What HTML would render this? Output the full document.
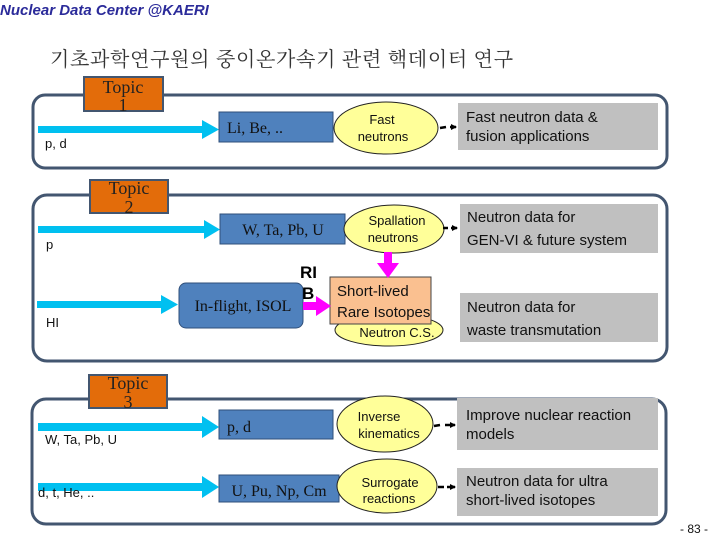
<!DOCTYPE html>
<html><head><meta charset="utf-8"><style>
html,body{margin:0;padding:0;background:#fff;}
svg{display:block;}
.s{font-family:"Liberation Serif","Noto Serif CJK SC",serif;}
.a{font-family:"Liberation Sans","Noto Sans CJK KR",sans-serif;}
</style></head><body>
<svg width="720" height="540" viewBox="0 0 720 540" xmlns="http://www.w3.org/2000/svg">
<defs>
<marker id="bk" markerWidth="6" markerHeight="6" refX="5" refY="3" orient="auto" markerUnits="userSpaceOnUse"><path d="M0,0 L6,3 L0,6Z" fill="#000"/></marker>
</defs>
<text x="0" y="15" class="a" font-size="15" font-weight="bold" font-style="italic" fill="#2b2b9a">Nuclear Data Center @KAERI</text>
<text x="50" y="66" font-family="'Noto Serif CJK SC','Noto Sans CJK KR',serif" font-size="20" letter-spacing="0.7" fill="#333">기초과학연구원의 중이온가속기 관련 핵데이터 연구</text>

<rect x="33" y="95" width="634" height="73" rx="12" fill="none" stroke="#435670" stroke-width="3"/>
<rect x="33" y="195" width="634" height="166" rx="14" fill="none" stroke="#435670" stroke-width="3"/>
<rect x="32" y="399" width="634" height="125" rx="14" fill="none" stroke="#435670" stroke-width="3"/>

<rect x="84" y="77" width="79" height="34" fill="#e36c0a" stroke="#435670" stroke-width="2"/>
<text x="123" y="93" class="s" font-size="18" text-anchor="middle" fill="#222">Topic</text>
<text x="123" y="111" class="s" font-size="18" text-anchor="middle" fill="#222">1</text>
<rect x="90" y="180" width="78" height="33" fill="#e36c0a" stroke="#435670" stroke-width="2"/>
<text x="129" y="194" class="s" font-size="18" text-anchor="middle" fill="#222">Topic</text>
<text x="129" y="213" class="s" font-size="18" text-anchor="middle" fill="#222">2</text>
<rect x="89" y="375" width="78" height="33" fill="#e36c0a" stroke="#435670" stroke-width="2"/>
<text x="128" y="389" class="s" font-size="18" text-anchor="middle" fill="#222">Topic</text>
<text x="128" y="408" class="s" font-size="18" text-anchor="middle" fill="#222">3</text>

<g fill="#00c0f0">
<rect x="38" y="126" width="166" height="7"/><path d="M202,120 L219,129.5 L202,139Z"/>
<rect x="38" y="226" width="168" height="7"/><path d="M204,220 L220,229.5 L204,239Z"/>
<rect x="37" y="301" width="126" height="7"/><path d="M161,295 L178,304.5 L161,314Z"/>
<rect x="38" y="423" width="166" height="8"/><path d="M202,416 L219,427 L202,438Z"/>
<rect x="38" y="483" width="166" height="8"/><path d="M202,476 L219,487 L202,498Z"/>
</g>
<g class="a" font-size="13" fill="#111">
<text x="45" y="148">p, d</text>
<text x="46" y="249">p</text>
<text x="46" y="327">HI</text>
<text x="45" y="444">W, Ta, Pb, U</text>
<text x="38" y="497">d, t, He, ..</text>
</g>

<g fill="#4f81bd" stroke="#2f4f7a" stroke-width="1">
<rect x="219" y="112" width="114" height="30"/>
<rect x="220" y="214" width="125" height="30"/>
<rect x="179" y="283" width="124" height="45" rx="7"/>
<rect x="219" y="410" width="114" height="29"/>
<rect x="219" y="475" width="120" height="27"/>
</g>
<g class="s" font-size="16" fill="#111">
<text x="227" y="133">Li, Be, ..</text>
<text x="283" y="235" text-anchor="middle">W, Ta, Pb, U</text>
<text x="243" y="311" text-anchor="middle">In-flight, ISOL</text>
<text x="227" y="432">p, d</text>
<text x="279" y="496" text-anchor="middle">U, Pu, Np, Cm</text>
</g>

<g fill="#ffff99" stroke="#222" stroke-width="1">
<ellipse cx="386" cy="128" rx="52" ry="26"/>
<ellipse cx="394" cy="229" rx="50" ry="24"/>
<ellipse cx="389" cy="330" rx="54" ry="16"/>
<ellipse cx="385" cy="424" rx="48" ry="28"/>
<ellipse cx="387" cy="486" rx="50" ry="27"/>
</g>
<g class="a" font-size="13" fill="#111" text-anchor="middle">
<text x="382" y="124">Fast</text><text x="383" y="141">neutrons</text>
<text x="397" y="225">Spallation</text><text x="393" y="242">neutrons</text>
<text x="397" y="337">Neutron C.S.</text>
<text x="379" y="421">Inverse</text><text x="389" y="438">kinematics</text>
<text x="390" y="487">Surrogate</text><text x="389" y="503">reactions</text>
</g>

<rect x="330" y="277" width="101" height="47" fill="#fac090" stroke="#444" stroke-width="1"/>
<text x="337" y="296" class="a" font-size="15" fill="#111">Short-lived</text>
<text x="337" y="317" class="a" font-size="15" fill="#111">Rare Isotopes</text>
<text x="300" y="278" class="a" font-size="17" font-weight="bold" fill="#000">RI</text>
<text x="302" y="299" class="a" font-size="17" font-weight="bold" fill="#000">B</text>

<g fill="#ff00ff">
<rect x="303" y="302" width="15" height="8"/><path d="M316,296 L331,306 L316,316Z"/>
<rect x="384" y="252" width="8" height="13"/><path d="M377,263 L388,278 L399,263Z"/>
</g>

<g stroke="#000" stroke-width="2.5">
<line x1="440" y1="128" x2="446" y2="127"/><line x1="450" y1="127" x2="456" y2="127" marker-end="url(#bk)"/>
<line x1="443" y1="228" x2="448" y2="228"/><line x1="451" y1="228" x2="457" y2="228" marker-end="url(#bk)"/>
<line x1="434" y1="426" x2="440" y2="425"/><line x1="445" y1="425" x2="455" y2="425" marker-end="url(#bk)"/>
<line x1="438" y1="487" x2="444" y2="487"/><line x1="447" y1="487" x2="455" y2="487" marker-end="url(#bk)"/>
</g>

<g fill="#c0c0c0">
<rect x="458" y="103" width="200" height="47"/>
<rect x="460" y="204" width="198" height="49"/>
<rect x="460" y="293" width="198" height="49"/>
<rect x="457" y="398" width="201" height="52"/>
<rect x="457" y="468" width="201" height="48"/>
</g>
<g class="a" font-size="15" fill="#111">
<text x="466" y="122">Fast neutron data &amp;</text><text x="466" y="141">fusion applications</text>
<text x="467" y="222">Neutron data for</text><text x="467" y="245">GEN-VI &amp; future system</text>
<text x="467" y="312">Neutron data for</text><text x="467" y="335">waste transmutation</text>
<text x="466" y="420">Improve nuclear reaction</text><text x="466" y="439">models</text>
<text x="466" y="486">Neutron data for ultra</text><text x="466" y="505">short-lived isotopes</text>
</g>
<text x="680" y="533" class="a" font-size="12" fill="#111">- 83 -</text>
</svg>
</body></html>
